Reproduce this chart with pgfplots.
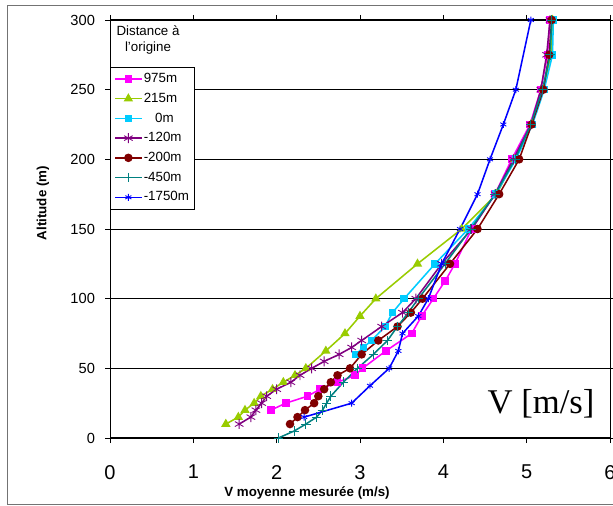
\documentclass[border=0pt]{standalone}
\usepackage{pgfplots}
\pgfplotsset{compat=1.18}
\usepackage{fontspec}
\setmainfont{Liberation Sans}
\newfontfamily\timesfont{Liberation Serif}
\definecolor{cMag}{HTML}{FF00FF}
\definecolor{cGreen}{HTML}{99CC00}
\definecolor{cCyan}{HTML}{00CCFF}
\definecolor{cPurple}{HTML}{800080}
\definecolor{cDred}{HTML}{800000}
\definecolor{cTeal}{HTML}{008080}
\definecolor{cBlue}{HTML}{0000FF}

\pgfplotstableread{
v alt
1.93 20
2.11 25
2.37 30
2.52 35
2.73 40
2.94 45
3.03 50
3.31 62.5
3.62 75
3.74 87.5
3.88 100
4.02 112.5
4.14 125
4.34 150
4.62 175
4.82 200
5.04 225
5.17 250
5.25 275
5.28 300
}\tMag

\pgfplotstableread{
v alt
1.39 10
1.54 15
1.62 20
1.73 25
1.81 30
1.95 35
2.08 40
2.22 45
2.35 50
2.59 62.5
2.82 75
3.00 87.5
3.19 100
3.69 125
4.22 150
4.64 175
4.85 200
5.06 225
5.20 250
5.29 275
5.31 300
}\tGreen

\pgfplotstableread{
v alt
2.95 60
3.04 65
3.14 70
3.30 80
3.39 90
3.53 100
3.90 125
4.30 150
4.63 175
4.87 200
5.07 225
5.21 250
5.31 275
5.32 300
}\tCyan

\pgfplotstableread{
v alt
1.55 10
1.69 15
1.75 20
1.82 25
1.88 30
2.00 35
2.17 40
2.28 45
2.42 50
2.57 55
2.75 60
2.90 65
3.02 70
3.26 80
3.51 90
3.67 100
3.98 125
4.34 150
4.62 175
4.84 200
5.05 225
5.17 250
5.24 275
5.28 300
}\tPurple

\pgfplotstableread{
v alt
2.16 10
2.25 15
2.34 20
2.45 25
2.50 30
2.57 35
2.65 40
2.73 45
2.88 50
3.02 60
3.22 70
3.45 80
3.61 90
3.75 100
4.08 125
4.41 150
4.67 175
4.91 200
5.06 225
5.20 250
5.27 275
5.30 300
}\tDred

\pgfplotstableread{
v alt
2.02 0
2.21 5
2.35 10
2.48 15
2.55 20
2.60 25
2.65 30
2.80 40
2.97 50
3.16 60
3.33 70
3.45 80
3.58 90
3.70 100
4.02 125
4.33 150
4.62 175
4.86 200
5.05 225
5.19 250
5.28 275
5.30 300
}\tTeal

\pgfplotstableread{
v alt
2.33 15
2.90 25
3.12 37.5
3.35 50
3.46 62.5
3.51 75
3.70 87.5
3.82 100
3.98 125
4.20 150
4.41 175
4.56 200
4.72 225
4.87 250
5.05 300
}\tBlue

\begin{document}
\begin{tikzpicture}
\useasboundingbox (0,0) rectangle (459.75pt,379.5pt);
\fill[white] (0,0) rectangle (459.75pt,379.5pt);
\draw[black!55, line width=0.75pt] (465pt,375pt) -- (5.25pt,375pt) -- (5.25pt,0.75pt) -- (465pt,0.75pt);
\begin{axis}[
  at={(82.5pt,51pt)}, anchor=south west,
  scale only axis, width=375pt, height=313.5pt,
  xmin=0, xmax=6, ymin=0, ymax=300,
  xtick={0,...,6}, ytick={0,50,...,300},
  tick align=outside, major tick length=3.75pt,
  tick style={black, line width=0.6pt},
  ymajorgrids, grid style={black, line width=0.6pt},
  axis line style={black, line width=0.75pt},
  /pgf/number format/assume math mode=true,
  xticklabel style={font=\fontsize{15}{18}\selectfont, yshift=-13pt},
  yticklabel style={font=\fontsize{11}{13}\selectfont, xshift=-4pt},
  xlabel={V moyenne mesurée (m/s)},
  ylabel={Altitude (m)},
  xlabel style={font=\bfseries\fontsize{10}{12}\selectfont, at={(rel axis cs:0.394,-0.1316)}, anchor=center},
  ylabel style={font=\bfseries\fontsize{10}{12}\selectfont, at={(rel axis cs:-0.134,0.562)}, anchor=center},
  clip=false,
  legend style={at={(rel axis cs:0,0.8876)}, anchor=north west, draw=black, fill=white,
    font=\fontsize{10}{12}\selectfont, row sep=3.3pt, inner xsep=3pt, inner ysep=3pt,
    nodes={inner sep=1pt, text height=7.5pt, text depth=2pt}},
  legend cell align=left,
  legend image code/.code={\draw[mark repeat=2,mark phase=2] plot coordinates {(0pt,0pt) (10pt,0pt) (20pt,0pt)};},
  every axis plot/.append style={line width=1.15pt},
]
\addplot[cMag, mark=square*, mark size=2.3pt, mark options={solid}] table[x=v,y=alt] {\tMag};
\addlegendentry{975m}
\addplot[cGreen, mark=triangle*, mark size=2.9pt, mark options={solid}] table[x=v,y=alt] {\tGreen};
\addlegendentry{215m}
\addplot[cCyan, mark=square*, mark size=2.3pt, mark options={solid}] table[x=v,y=alt] {\tCyan};
\addlegendentry{\hspace{8.5pt}0m}
\addplot[cPurple, mark=asterisk, mark size=3.7pt, mark options={solid, line width=0.65pt}] table[x=v,y=alt] {\tPurple};
\addlegendentry{-120m}
\addplot[cDred, mark=*, mark size=2.6pt, mark options={solid}] table[x=v,y=alt] {\tDred};
\addlegendentry{-200m}
\addplot[cTeal, mark=+, mark size=3.6pt, mark options={solid, line width=0.65pt}] table[x=v,y=alt] {\tTeal};
\addlegendentry{-450m}
\addplot[cBlue, mark=asterisk, mark size=2.6pt, mark options={solid, line width=0.65pt}] table[x=v,y=alt] {\tBlue};
\addlegendentry{-1750m}
\node[align=center, font=\fontsize{10}{12}\selectfont, inner sep=0pt] at (rel axis cs:0.076,0.952) {Distance à\\l'origine};
\node[font=\timesfont\fontsize{26}{30}\selectfont, inner sep=0pt] at (rel axis cs:0.862,0.0813) {V [m/s]};
\end{axis}
\end{tikzpicture}
\end{document}
